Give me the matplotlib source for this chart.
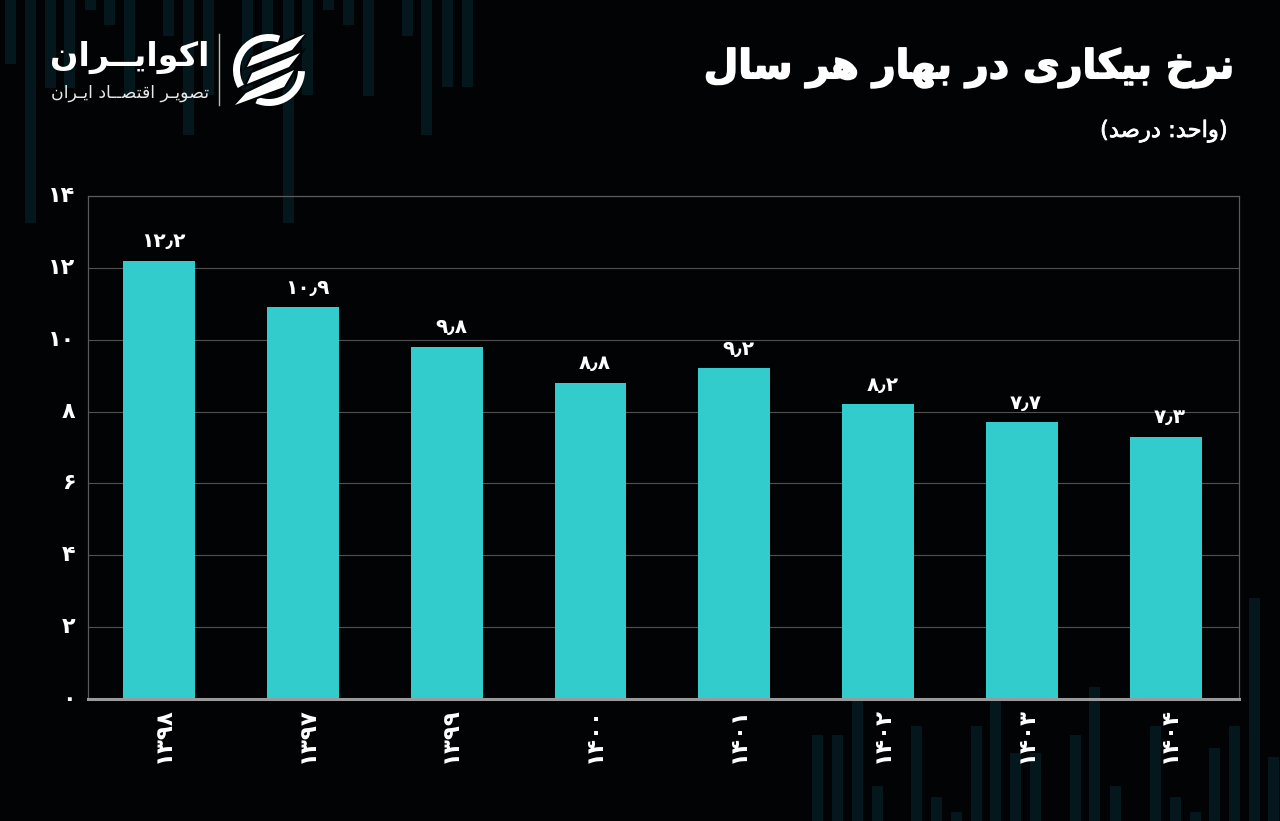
import matplotlib
matplotlib.use("Agg")
import matplotlib.pyplot as plt
import matplotlib.patheffects as pe
from matplotlib.patches import Polygon, Wedge
from matplotlib.transforms import ScaledTranslation

# ---------- data ----------
years = ["1398", "1397", "1399", "1400", "1401", "1402", "1403", "1404"]
values = [12.2, 10.9, 9.8, 8.8, 9.2, 8.2, 7.7, 7.3]
y_ticks = [0, 2, 4, 6, 8, 10, 12, 14]
title_text = "نرخ بیکاری در بهار هر سال"
unit_text = "(واحد: درصد)"
brand_text = "اکوایــران"
brand_sub_text = "تصویـر اقتصــاد ایـران"

# decorative background stripes (pixel centre, far end)
top_x = [10, 30, 50, 69, 90, 109, 129, 168, 188, 208, 247, 267, 288, 307, 328, 348, 368, 407, 426, 447, 467]
top_end = [64, 223, 88, 88, 10, 25, 95, 36, 135, 95, 90, 90, 223, 95, 10, 25, 96, 36, 135, 87, 87]
bot_x = [817, 837, 857, 877, 916, 936, 956, 976, 995, 1015, 1035, 1075, 1094, 1115, 1155, 1175, 1195, 1214, 1234, 1254, 1273]
bot_start = [735, 735, 700, 786, 726, 797, 812, 726, 700, 753, 753, 735, 687, 786, 726, 797, 812, 748, 726, 598, 757]

# ---------- Persian text helpers ----------
FORMS = {  # isolated, final, initial, medial
    "ا": "\uFE8D\uFE8E", "د": "\uFEA9\uFEAA", "ر": "\uFEAD\uFEAE", "و": "\uFEED\uFEEE",
    "ب": "\uFE8F\uFE90\uFE91\uFE92", "ت": "\uFE95\uFE96\uFE97\uFE98",
    "ح": "\uFEA1\uFEA2\uFEA3\uFEA4", "خ": "\uFEA5\uFEA6\uFEA7\uFEA8",
    "س": "\uFEB1\uFEB2\uFEB3\uFEB4", "ص": "\uFEB9\uFEBA\uFEBB\uFEBC",
    "ق": "\uFED5\uFED6\uFED7\uFED8", "ک": "\uFB8E\uFB8F\uFB90\uFB91",
    "ل": "\uFEDD\uFEDE\uFEDF\uFEE0", "ن": "\uFEE5\uFEE6\uFEE7\uFEE8",
    "ه": "\uFEE9\uFEEA\uFEEB\uFEEC", "ی": "\uFBFC\uFBFD\uFBFE\uFBFF",
    "ـ": "ــــ",
}
MIRROR = {"(": ")", ")": "("}

def shape(s):
    out = []
    for i, c in enumerate(s):
        f = FORMS.get(c)
        if f is None:
            out.append(MIRROR.get(c, c))
            continue
        prev = s[i - 1] if i else ""
        nxt = s[i + 1] if i + 1 < len(s) else ""
        jp = prev in FORMS and len(FORMS[prev]) == 4
        jn = len(f) == 4 and nxt in FORMS
        if len(f) == 2:
            out.append(f[1] if jp else f[0])
        else:
            out.append(f[3] if jp and jn else f[1] if jp else f[2] if jn else f[0])
    return "".join(reversed(out))

def fa(x):
    return str(x).translate(str.maketrans("0123456789.", "۰۱۲۳۴۵۶۷۸۹٫"))

# ---------- figure ----------
plt.rcParams["font.family"] = "DejaVu Sans"
W, H = 1280, 821
BG = "#010304"
STRIPE = "#04171D"
TEAL = "#33CCCD"
fig = plt.figure(figsize=(W / 100, H / 100), dpi=100, facecolor=BG)

bg = fig.add_axes([0, 0, 1, 1], zorder=0)
bg.set_xlim(0, W)
bg.set_ylim(H, 0)
bg.axis("off")
bg.bar(top_x, top_end, width=11, bottom=0, color=STRIPE, linewidth=0)
bg.bar(bot_x, [H - s for s in bot_start], width=11, bottom=bot_start, color=STRIPE, linewidth=0)

L, R, T, B = 88, 1239, 196, 699
ax = fig.add_axes([L / W, 1 - B / H, (R - L) / W, (B - T) / H], zorder=1)
ax.patch.set_alpha(0)
x = list(range(len(years)))
bars = ax.bar(x, values, width=0.5, color=TEAL, linewidth=0, zorder=3)
ax.set_xlim(-0.495, len(years) - 0.49)
ax.set_ylim(0, 14)
value_labels = ax.bar_label(bars, labels=[fa(v) for v in values], padding=7, color="white",
                            fontsize=14.5, fontweight="bold")
for t in value_labels:
    t.xyann = (3, 7)
ax.set_yticks(y_ticks)
ax.set_yticklabels([fa(v) for v in y_ticks], color="white", fontsize=16, fontweight="bold")
ax.set_xticks(x)
ax.set_xticklabels([fa(y) for y in years], color="white", fontsize=16.5,
                   fontweight="bold", rotation=90)
ax.tick_params(axis="both", length=0)
ax.tick_params(axis="y", pad=9)
ax.tick_params(axis="x", pad=6)
for lab in ax.get_yticklabels():
    lab.set_verticalalignment("center")
shift = ScaledTranslation(4 / 100, 0, fig.dpi_scale_trans)
for lab in ax.get_xticklabels():
    lab.set_transform(lab.get_transform() + shift)
ax.yaxis.grid(True, color="#505050", linewidth=0.8, zorder=1)
ax.set_axisbelow(True)
for side in ("left", "right", "top"):
    ax.spines[side].set_color("#5A5A5A")
    ax.spines[side].set_linewidth(0.9)
ax.spines["bottom"].set_color("#9A9A9A")
ax.spines["bottom"].set_linewidth(2.2)
ax.spines["bottom"].set_zorder(5)

# ---------- header ----------
fig.text(1235 / W, 1 - 68 / H, shape(title_text), color="white", fontsize=28.7,
         fontweight="bold", ha="right", va="center",
         path_effects=[pe.withStroke(linewidth=1.2, foreground="white")])
fig.text(1228 / W, 1 - 131 / H, shape(unit_text), color="white", fontsize=16.3,
         ha="right", va="center",
         path_effects=[pe.withStroke(linewidth=0.5, foreground="white")])

# ---------- logo ----------
bg.text(209, 57, shape(brand_text), color="white", fontsize=24, fontweight="bold",
        ha="right", va="center", zorder=5)
bg.text(209, 93, shape(brand_sub_text), color="#E8E8E8", fontsize=12.5,
        ha="right", va="center", zorder=5)
bg.plot([219, 219], [34, 105], color="#BBBBBB", lw=1, zorder=5)
cx, cy = 269, 70
# y axis is inverted on this axes, so the wedge angles run clockwise on screen
bg.add_patch(Wedge((cx, cy), 36, 150, 288, width=7, color="white", lw=0, zorder=5))
bg.add_patch(Wedge((cx, cy), 36, 2, 112, width=7, color="white", lw=0, zorder=5))
for pts in ([(305, 34), (252, 57), (247, 67), (292, 50)],
            [(300, 53), (252, 73), (247, 84), (289, 67)],
            [(294, 70), (246, 93), (235, 105), (284, 87)]):
    bg.add_patch(Polygon(pts, closed=True, facecolor=BG, edgecolor=BG, lw=3, zorder=5.5))
    bg.add_patch(Polygon(pts, closed=True, color="white", lw=0, zorder=6))

fig.savefig("out.png", dpi=100, facecolor=fig.get_facecolor())
